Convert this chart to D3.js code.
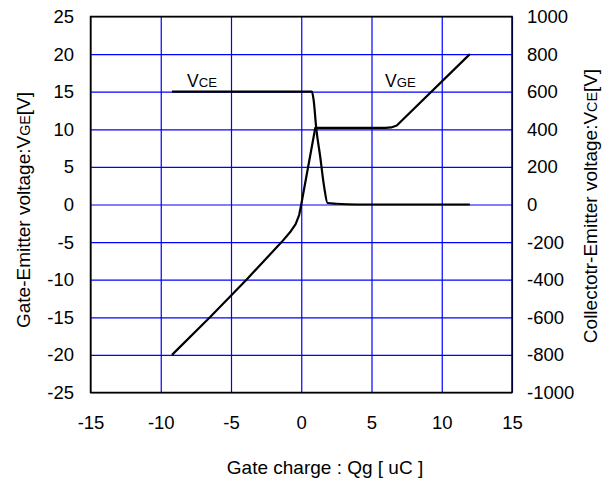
<!DOCTYPE html>
<html>
<head>
<meta charset="utf-8">
<script src="https://cdn.jsdelivr.net/npm/d3@7"></script>
<style>
  body { margin: 0; background: #fff; }
  svg text { font-family: 'Liberation Sans', Arial, sans-serif; fill: #000; }
</style>
</head>
<body>
<div id="chart"></div>
<script>
// gate charge in uC, VGE in V
const vgeCharge = [-9.2, -6.5, -3.9, -1.4, -0.8, -0.4, -0.15, 0, 1.0, 6.0, 6.4, 6.8, 12]
const vgeValues = [-20, -15, -10, -5, -3.7, -2.6, -1.4, 0, 10.2, 10.2, 10.25, 10.5, 20]

// gate charge in uC, VCE in V
const vceCharge = [-9.2, 0.76, 0.88, 1.07, 1.35, 1.63, 1.87, 2.5, 4, 12]
const vceValues = [600, 600, 556, 404, 254, 94, 8, 4, 0, 0]

const xTicks = [-15, -10, -5, 0, 5, 10, 15]
const leftTicks = [-25, -20, -15, -10, -5, 0, 5, 10, 15, 20, 25]
const rightTicks = [-1000, -800, -600, -400, -200, 0, 200, 400, 600, 800, 1000]

const W = 614
const H = 484
const margin = { TOP: 16.5, RIGHT: 102, BOTTOM: 91.5, LEFT: 90.5 }

const svg = d3.select('#chart')
  .append('svg')
  .attr('width', W)
  .attr('height', H)

const x = d3.scaleLinear().domain([-15, 15]).range([margin.LEFT, W - margin.RIGHT])
const yL = d3.scaleLinear().domain([-25, 25]).range([H - margin.BOTTOM, margin.TOP])
const yR = d3.scaleLinear().domain([-1000, 1000]).range([H - margin.BOTTOM, margin.TOP])

// plain hyphen minus, no thousands separator
const fmt = d => String(d)

// grid
svg.append('g')
  .attr('class', 'grid')
  .attr('transform', `translate(0, ${H - margin.BOTTOM})`)
  .call(d3.axisBottom(x).tickValues(xTicks).tickSize(-(H - margin.BOTTOM - margin.TOP)).tickFormat(''))
  .call(g => g.select('.domain').remove())
  .selectAll('line')
  .attr('stroke', '#0000ff')
  .attr('stroke-width', 1.2)

svg.append('g')
  .attr('class', 'grid')
  .attr('transform', `translate(${margin.LEFT}, 0)`)
  .call(d3.axisLeft(yL).tickValues(leftTicks).tickSize(-(W - margin.RIGHT - margin.LEFT)).tickFormat(''))
  .call(g => g.select('.domain').remove())
  .selectAll('line')
  .attr('stroke', '#0000ff')
  .attr('stroke-width', 1.2)

// frame
svg.append('rect')
  .attr('x', margin.LEFT)
  .attr('y', margin.TOP)
  .attr('width', W - margin.RIGHT - margin.LEFT)
  .attr('height', H - margin.BOTTOM - margin.TOP)
  .attr('fill', 'none')
  .attr('stroke', '#000')
  .attr('stroke-width', 1.5)

// axes labels (no tick marks)
const fs = 18.5
const titleFs = 19
svg.append('g')
  .attr('transform', `translate(0, ${H - margin.BOTTOM})`)
  .call(d3.axisBottom(x).tickValues(xTicks).tickSize(0).tickPadding(23).tickFormat(fmt))
  .call(g => g.select('.domain').remove())
  .selectAll('text')
  .style('font-size', fs + 'px')
  .attr('fill', '#000')

svg.append('g')
  .attr('transform', `translate(${margin.LEFT}, 0)`)
  .call(d3.axisLeft(yL).tickValues(leftTicks).tickSize(0).tickPadding(16.5).tickFormat(fmt))
  .call(g => g.select('.domain').remove())
  .selectAll('text')
  .style('font-size', fs + 'px')
  .attr('fill', '#000')

svg.append('g')
  .attr('transform', `translate(${W - margin.RIGHT}, 0)`)
  .call(d3.axisRight(yR).tickValues(rightTicks).tickSize(0).tickPadding(15).tickFormat(fmt))
  .call(g => g.select('.domain').remove())
  .selectAll('text')
  .style('font-size', fs + 'px')
  .attr('fill', '#000')

// curves
const lineL = d3.line().x(d => x(d[0])).y(d => yL(d[1]))
const lineR = d3.line().x(d => x(d[0])).y(d => yR(d[1])).curve(d3.curveMonotoneX)

svg.append('path')
  .datum(vgeCharge.map((c, i) => [c, vgeValues[i]]))
  .attr('d', lineL)
  .attr('fill', 'none')
  .attr('stroke', '#000')
  .attr('stroke-width', 2.2)
  .attr('stroke-linejoin', 'round')

svg.append('path')
  .datum(vceCharge.map((c, i) => [c, vceValues[i]]))
  .attr('d', lineR)
  .attr('fill', 'none')
  .attr('stroke', '#000')
  .attr('stroke-width', 2.2)

// text with small subscript-like letters
const subText = (sel, main, sub, tail) => {
  sel.append('tspan').text(main)
  sel.append('tspan').style('font-size', '0.75em').text(sub)
  if (tail) sel.append('tspan').text(tail)
}

subText(svg.append('text').attr('x', 187).attr('y', 87).style('font-size', '17.5px'), 'V', 'CE')
subText(svg.append('text').attr('x', 385).attr('y', 87).style('font-size', '17.5px'), 'V', 'GE')

subText(
  svg.append('text')
    .attr('transform', `translate(30, 210) rotate(-90)`)
    .attr('text-anchor', 'middle')
    .style('font-size', titleFs + 'px'),
  'Gate-Emitter voltage:V', 'GE', '[V]'
)

subText(
  svg.append('text')
    .attr('transform', `translate(597, 206) rotate(-90)`)
    .attr('text-anchor', 'middle')
    .style('font-size', titleFs + 'px'),
  'Collectotr-Emitter voltage:V', 'CE', '[V]'
)

svg.append('text')
  .attr('x', 325)
  .attr('y', 474)
  .attr('text-anchor', 'middle')
  .style('font-size', titleFs + 'px')
  .text('Gate charge : Qg [ uC ]')
</script>
</body>
</html>
